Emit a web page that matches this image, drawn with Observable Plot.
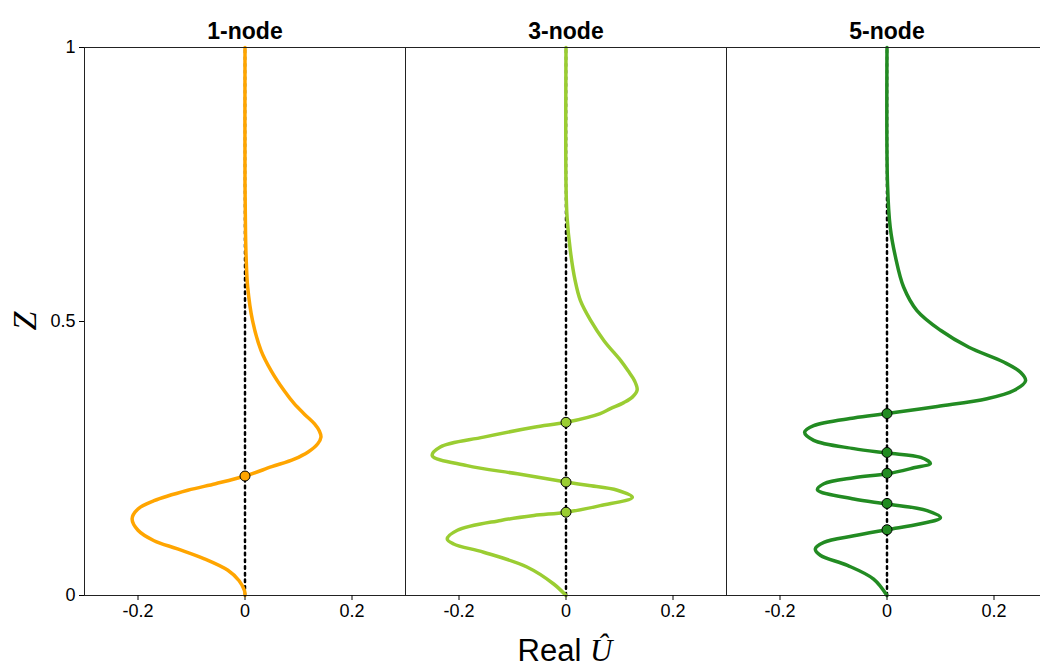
<!DOCTYPE html>
<html><head><meta charset="utf-8">
<script src="https://cdn.jsdelivr.net/npm/d3@7"></script>
<script src="https://cdn.jsdelivr.net/npm/@observablehq/plot@0.6"></script>
<style>html,body{margin:0;padding:0;overflow:hidden;background:#fff;} svg{max-width:none !important;}</style>
</head><body><div id="chart"></div>
<script>
const panels = ["1-node", "3-node", "5-node"];
const colors = ["#FFA500", "#9ACD32", "#228B22"];

// 1-node curve: height Z and Real U
const z1 = [0, 0.009, 0.027, 0.046, 0.067, 0.085, 0.1, 0.119, 0.14, 0.158, 0.173, 0.192, 0.204, 0.218, 0.235, 0.249, 0.262, 0.277, 0.289, 0.3, 0.313, 0.33, 0.35, 0.374, 0.41, 0.447, 0.502, 0.563, 0.62, 0.66, 0.75, 1];
const u1 = [0, -0.001, -0.011, -0.032, -0.076, -0.126, -0.17, -0.2, -0.211, -0.2, -0.17, -0.107, -0.055, 0, 0.05, 0.092, 0.118, 0.136, 0.142, 0.139, 0.13, 0.112, 0.092, 0.073, 0.049, 0.03, 0.014, 0.005, 0.002, 0.001, 0, 0];

// 3-node curve
const z2 = [0, 0.021, 0.052, 0.079, 0.094, 0.103, 0.119, 0.137, 0.146, 0.152, 0.164, 0.179, 0.192, 0.201, 0.207, 0.222, 0.237, 0.255, 0.271, 0.289, 0.307, 0.316, 0.332, 0.341, 0.352, 0.362, 0.375, 0.392, 0.41, 0.429, 0.465, 0.502, 0.538, 0.575, 0.63, 0.69, 0.75, 1];
const u2 = [0, -0.023, -0.073, -0.154, -0.21, -0.222, -0.203, -0.122, -0.06, 0, 0.064, 0.124, 0.096, 0.04, 0, -0.091, -0.185, -0.25, -0.235, -0.154, -0.06, 0, 0.064, 0.083, 0.108, 0.124, 0.133, 0.128, 0.116, 0.102, 0.071, 0.046, 0.027, 0.017, 0.008, 0.002, 0, 0];

// 5-node curve
const z3 = [0, 0.03, 0.055, 0.073, 0.085, 0.097, 0.109, 0.12, 0.131, 0.142, 0.155, 0.167, 0.176, 0.193, 0.204, 0.215, 0.222, 0.233, 0.241, 0.252, 0.26, 0.268, 0.283, 0.298, 0.31, 0.324, 0.332, 0.345, 0.359, 0.374, 0.392, 0.407, 0.426, 0.453, 0.484, 0.52, 0.563, 0.617, 0.672, 0.75, 1];
const u3 = [0, -0.025, -0.074, -0.124, -0.134, -0.118, -0.062, 0, 0.063, 0.1, 0.075, 0, -0.062, -0.13, -0.118, -0.062, 0, 0.05, 0.081, 0.063, 0, -0.062, -0.137, -0.154, -0.137, -0.062, 0, 0.094, 0.187, 0.237, 0.259, 0.25, 0.218, 0.153, 0.1, 0.056, 0.031, 0.016, 0.006, 0.001, 0];

// zero crossings (nodes)
const nodes1 = [0.218];
const nodes2 = [0.152, 0.207, 0.316];
const nodes3 = [0.12, 0.168, 0.223, 0.261, 0.332];

const xTicks = [-0.2, 0, 0.2];
const yTicks = [0, 0.5, 1];

const curves = [];
[[z1, u1], [z2, u2], [z3, u3]].forEach(([zs, us], i) =>
  zs.forEach((z, j) => curves.push({panel: panels[i], z, u: us[j]})));
const nodePts = [];
[nodes1, nodes2, nodes3].forEach((ns, i) =>
  ns.forEach(z => nodePts.push({panel: panels[i], z, u: 0})));
const guide = panels.flatMap(p => [{panel: p, z: 0, u: 0}, {panel: p, z: 1, u: 0}]);

const fmt = d => String(d);

const plot = Plot.plot({
  width: 1047, height: 669,
  marginLeft: 83, marginRight: 0, marginTop: 47, marginBottom: 74,
  style: {fontFamily: "Liberation Sans", fontSize: "18px", color: "black", background: "white", overflow: "visible", maxWidth: "none"},
  fx: {domain: panels, padding: 0, axis: null, label: null},
  x: {domain: [-0.3, 0.3], label: null},
  y: {domain: [0, 1], label: null},
  color: {domain: panels, range: colors},
  marks: [
    Plot.line(guide, {fx: "panel", x: "u", y: "z", stroke: "black", strokeWidth: 2.5, strokeDasharray: "2.5,4.2"}),
    Plot.line(curves, {fx: "panel", x: "u", y: "z", stroke: "panel", strokeWidth: 3.5, curve: "catmull-rom"}),
    Plot.dot(nodePts, {fx: "panel", x: "u", y: "z", r: 5, fill: "panel", stroke: "black", strokeWidth: 1}),
    Plot.frame({stroke: "#222", strokeWidth: 1}),
    Plot.axisX({ticks: xTicks, tickFormat: fmt, tickSize: 5, tickPadding: 4, label: null}),
    Plot.axisY({ticks: yTicks, tickFormat: fmt, tickSize: 5, tickPadding: 4, label: null}),
    Plot.text(panels, {fx: d => d, text: d => d, frameAnchor: "top", lineAnchor: "bottom", dy: -9, fontSize: 23, fontWeight: "bold"})
  ]
});

const svg = d3.select(plot);
svg.style("max-width", "none");
const xl = svg.append("text")
  .attr("x", 565).attr("y", 661).attr("text-anchor", "middle")
  .attr("font-size", 31).attr("fill", "black")
  .attr("font-family", "Liberation Sans");
xl.append("tspan").text("Real ");
xl.append("tspan").attr("font-family", "Liberation Serif").attr("font-style", "italic").text("Û");

svg.append("text")
  .attr("transform", "translate(36,321) rotate(-90)")
  .attr("text-anchor", "middle")
  .attr("font-size", 34).attr("font-style", "italic")
  .attr("font-family", "Liberation Serif").attr("fill", "black")
  .text("Z");

document.getElementById("chart").appendChild(plot);
</script>
</body></html>
